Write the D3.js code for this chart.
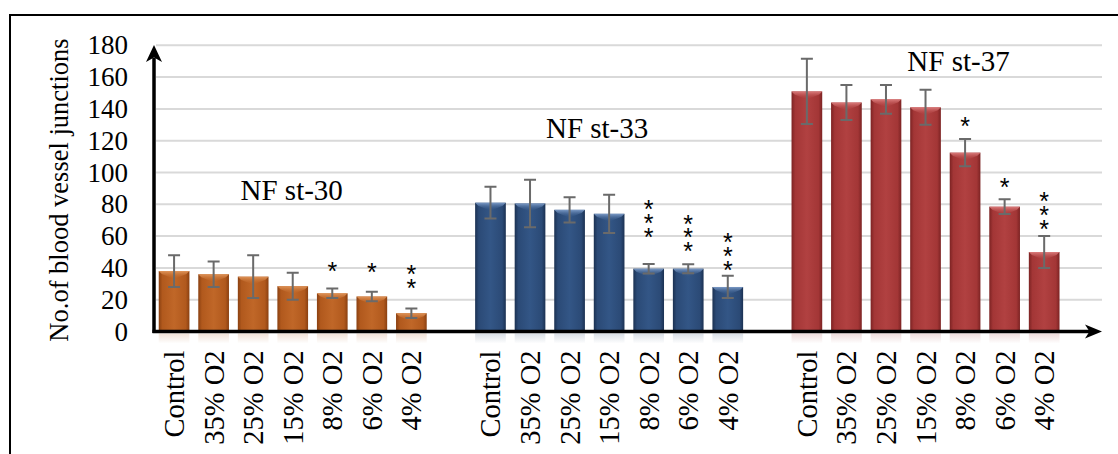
<!DOCTYPE html>
<html>
<head>
<meta charset="utf-8">
<script src="https://cdn.jsdelivr.net/npm/d3@7"></script>
<style>
  html, body { margin: 0; padding: 0; background: #fff; }
  svg { display: block; }
</style>
</head>
<body>
<svg id="chart" width="1118" height="454"></svg>
<script>
// ---- data ----
const categories = ["Control", "35% O2", "25% O2", "15% O2", "8% O2", "6% O2", "4% O2"];
const stages = ["NF st-30", "NF st-33", "NF st-37"];

const st30Means  = [38, 36, 34.5, 28.5, 24, 22, 11.5];
const st30Errors = [10, 8, 13.5, 8.5, 3, 3, 3];
const st33Means  = [81, 80.5, 76.5, 74, 39.5, 39.5, 28];
const st33Errors = [10, 15, 8, 12, 3, 2.8, 7];
const st37Means  = [151, 144, 146, 141, 112.5, 78.5, 50];
const st37Errors = [20.5, 11, 9, 11, 8.5, 4.6, 10];

// significance marks: number of asterisks and the value level of the lowest one
const st30Stars = [0, 0, 0, 0, 1, 1, 2];
const st33Stars = [0, 0, 0, 0, 3, 3, 3];
const st37Stars = [0, 0, 0, 0, 1, 1, 3];
const st30StarLevel = [null, null, null, null, 41.3, 40.7, 30.7];
const st33StarLevel = [null, null, null, null, 63.1, 53.9, 42.2];
const st37StarLevel = [null, null, null, null, 132.4, 94.1, 68];

// stage title levels (value units)
const stageTitleLevel = [82.6, 121.8, 163.9];

const yTicks = [0, 20, 40, 60, 80, 100, 120, 140, 160, 180];

// ---- styling ----
const serif = '"Liberation Serif", "Times New Roman", Times, serif';
const stageTitleShift = [-1, -12, 33];
const themes = [
  { base: "#b1591d", dark: "#8a4011", light: "#c06728", cap: "#e0955a" },
  { base: "#2b4a76", dark: "#1b3152", light: "#335686", cap: "#7b9ac6" },
  { base: "#a33636", dark: "#7c2323", light: "#b14141", cap: "#dc7d7d" }
];

const meansByStage  = [st30Means, st33Means, st37Means];
const errorsByStage = [st30Errors, st33Errors, st37Errors];
const starsByStage  = [st30Stars, st33Stars, st37Stars];
const levelByStage  = [st30StarLevel, st33StarLevel, st37StarLevel];

const slotsPerStage = categories.length + 1;
const rows = stages.flatMap((s, g) => categories.map((c, i) => ({
  stage: g, category: c, slot: g * slotsPerStage + i,
  mean: meansByStage[g][i], err: errorsByStage[g][i],
  stars: starsByStage[g][i], level: levelByStage[g][i]
})));

// ---- scales ----
const svg = d3.select("#chart");
const y = d3.scaleLinear().domain([0, 180]).range([331.5, 45.3]);
const x = d3.scaleBand()
  .domain(d3.range(stages.length * slotsPerStage))
  .range([154.3, 1103.5])
  .paddingInner(0.224)
  .paddingOuter(0.112);
const bw = x.bandwidth();
const cx = d => x(d.slot) + bw / 2;

// ---- gradients ----
const defs = svg.append("defs");
themes.forEach((t, g) => {
  const body = defs.append("linearGradient").attr("id", "body" + g)
    .attr("x1", 0).attr("x2", 1).attr("y1", 0).attr("y2", 0);
  [[0, t.dark], [0.12, t.base], [0.5, t.light], [0.88, t.base], [1, t.dark]]
    .forEach(([o, c]) => body.append("stop").attr("offset", o).attr("stop-color", c));
  const cap = defs.append("linearGradient").attr("id", "cap" + g)
    .attr("x1", 0).attr("x2", 0).attr("y1", 0).attr("y2", 1);
  cap.append("stop").attr("offset", 0).attr("stop-color", t.cap).attr("stop-opacity", 1);
  cap.append("stop").attr("offset", 1).attr("stop-color", t.light).attr("stop-opacity", 0);
  const refl = defs.append("linearGradient").attr("id", "refl" + g)
    .attr("x1", 0).attr("x2", 0).attr("y1", 0).attr("y2", 1);
  refl.append("stop").attr("offset", 0).attr("stop-color", t.base).attr("stop-opacity", 0.18);
  refl.append("stop").attr("offset", 1).attr("stop-color", t.base).attr("stop-opacity", 0);
});

// ---- frame ----
svg.append("path")
  .attr("d", "M10,454 V15 H1118")
  .attr("fill", "none").attr("stroke", "#000").attr("stroke-width", 2);

// ---- gridlines ----
svg.append("g").selectAll("line")
  .data(yTicks.filter(v => v > 0))
  .join("line")
  .attr("x1", 156).attr("x2", 1102)
  .attr("y1", d => y(d)).attr("y2", d => y(d))
  .attr("stroke", "#d9d9d9").attr("stroke-width", 2);

// ---- bars ----
const barG = svg.append("g");
barG.selectAll("rect.refl").data(rows).join("rect")
  .attr("class", "refl")
  .attr("x", d => x(d.slot)).attr("width", bw)
  .attr("y", y(0) + 2).attr("height", 10)
  .attr("fill", d => `url(#refl${d.stage})`);
barG.selectAll("rect.bar").data(rows).join("rect")
  .attr("class", "bar")
  .attr("x", d => x(d.slot)).attr("width", bw)
  .attr("y", d => y(d.mean)).attr("height", d => y(0) - y(d.mean))
  .attr("fill", d => `url(#body${d.stage})`);
barG.selectAll("path.cap").data(rows).join("path")
  .attr("class", "cap")
  .attr("d", d => {
    const x0 = x(d.slot), x1 = x0 + bw, t = y(d.mean);
    return `M${x0},${t} L${x1},${t} L${x1 - 3},${t + 3} L${x0 + bw / 2},${t + 8} L${x0 + 3},${t + 3} Z`;
  })
  .attr("fill", d => `url(#cap${d.stage})`);

// ---- error bars ----
const errG = svg.append("g").attr("stroke", "#6a6a6a").attr("stroke-width", 2).attr("fill", "none");
errG.selectAll("path").data(rows).join("path")
  .attr("d", d => {
    const c = cx(d), hi = y(d.mean + d.err), lo = y(d.mean - d.err);
    return `M${c},${hi} V${lo} M${c - 6},${hi} H${c + 6} M${c - 6},${lo} H${c + 6}`;
  });

// ---- axes (arrows) ----
const axG = svg.append("g");
axG.append("line").attr("x1", 154).attr("x2", 154).attr("y1", y(0) + 1.5).attr("y2", 58)
  .attr("stroke", "#000").attr("stroke-width", 3.5);
axG.append("path").attr("d", "M154,45 L146,62 L154,57.5 L162,62 Z").attr("fill", "#000");
axG.append("line").attr("x1", 152.5).attr("x2", 1090).attr("y1", y(0)).attr("y2", y(0))
  .attr("stroke", "#000").attr("stroke-width", 3.5);
axG.append("path").attr("d", `M1102,${y(0)} L1085,${y(0) - 7} L1089.5,${y(0)} L1085,${y(0) + 7} Z`).attr("fill", "#000");

// y tick labels
const yAxis = svg.append("g").attr("transform", "translate(154,0)")
  .call(d3.axisLeft(y).tickValues(yTicks).tickSize(0).tickPadding(26).tickFormat(d3.format("d")));
yAxis.select(".domain").remove();
yAxis.selectAll("text").attr("font-family", serif).attr("font-size", 27).attr("fill", "#000");

// x category labels
const labelled = rows.map(d => d.slot);
const xAxis = svg.append("g").attr("transform", `translate(0,${y(0)})`)
  .call(d3.axisBottom(x).tickValues(labelled).tickSize(0)
    .tickFormat(s => rows.find(r => r.slot === s).category));
xAxis.select(".domain").remove();
xAxis.selectAll("text")
  .attr("font-family", serif).attr("font-size", 28.5).attr("fill", "#000")
  .attr("transform", "rotate(-90)")
  .attr("text-anchor", "end")
  .attr("x", -19).attr("y", 0).attr("dy", "0.35em");

// y axis title
svg.append("text")
  .attr("transform", "translate(68,190) rotate(-90)")
  .attr("text-anchor", "middle")
  .attr("font-family", serif).attr("font-size", 26.5).attr("fill", "#000")
  .text("No.of blood vessel junctions");

// stage titles
svg.append("g").selectAll("text").data(stages).join("text")
  .attr("x", (s, g) => {
    const first = x(g * slotsPerStage), last = x(g * slotsPerStage + categories.length - 1) + bw;
    return (first + last) / 2 + stageTitleShift[g];
  })
  .attr("y", (s, g) => y(stageTitleLevel[g]))
  .attr("text-anchor", "middle")
  .attr("font-family", serif).attr("font-size", 29).attr("fill", "#000")
  .text(s => s);

// significance asterisks: a vertical column of upright glyphs per bar
const starSize = 25, starGap = 13.8;
svg.append("g").selectAll("text").data(rows.filter(d => d.stars > 0)).join("text")
  .attr("transform", d =>
    `translate(${cx(d) - 0.195 * starSize},${y(d.level) + 0.575 * starSize}) rotate(-90)`)
  .attr("rotate", 90)
  .attr("letter-spacing", starGap - 0.389 * starSize)
  .attr("font-family", '"Liberation Sans", Arial, sans-serif')
  .attr("font-size", starSize).attr("fill", "#000")
  .text(d => "*".repeat(d.stars));
</script>
</body>
</html>
